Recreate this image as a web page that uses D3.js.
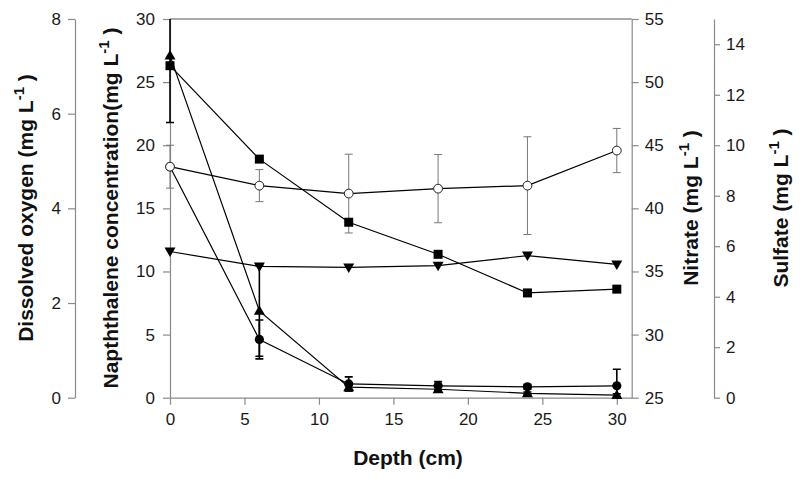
<!DOCTYPE html>
<html><head><meta charset="utf-8">
<script src="https://cdn.jsdelivr.net/npm/d3@7"></script>
<style>
body{margin:0;background:#fff;}
svg{display:block;font-family:"Liberation Sans",Arial,sans-serif;}
</style></head>
<body><svg id="c" width="800" height="479"></svg>
<script>
// ---- data ----
const depth = [0, 6, 12, 18, 24, 30];
// filled circles (Dissolved oxygen axis)
const oxygen      = [4.88, 1.23, 0.29, 0.25, 0.23, 0.25];
const oxygenErr   = [0, 0.41, 0.15, 0.09, 0.05, 0.35];
// filled triangles up (Napthalene axis)
const napthalene    = [27.1, 6.88, 0.83, 0.67, 0.35, 0.21];
const napthaleneErr = [5.3, 3.6, 0.3, 0.2, 0.1, 0.1];
// open circles (Nitrate axis)
const nitrate    = [43.3, 41.8, 41.17, 41.56, 41.8, 44.58];
const nitrateErr = [1.7, 1.27, 3.12, 2.7, 3.87, 1.75];
// filled squares (Sulfate axis)
const sulfate    = [13.15, 9.45, 6.95, 5.68, 4.15, 4.3];
// filled triangles down (Sulfate axis)
const sulfate2   = [5.79, 5.2, 5.16, 5.23, 5.63, 5.28];

const xTicks = [0, 5, 10, 15, 20, 25, 30];
const naphTicks = [0, 5, 10, 15, 20, 25, 30];
const doTicks = [0, 2, 4, 6, 8];
const nitTicks = [25, 30, 35, 40, 45, 50, 55];
const sulTicks = [0, 2, 4, 6, 8, 10, 12, 14];

// ---- layout ----
const svg = d3.select("#c");
const L = 170, R = 631.7, T = 19, B = 397.7;
const x = d3.scaleLinear().domain([0, 31]).range([L, R]);
const yN = d3.scaleLinear().domain([0, 30]).range([B, T]);
const yD = d3.scaleLinear().domain([0, 8]).range([B, T]);
const yNi = d3.scaleLinear().domain([25, 55]).range([B, T]);
const yS = d3.scaleLinear().domain([0, 15]).range([B, T]);

const axisCol = "#8a8a8a";
function styleAxis(g){
  g.attr("font-size", null).attr("font-family", null);
  g.select(".domain").attr("stroke", axisCol).attr("stroke-width", 1.2);
  g.selectAll(".tick line").attr("stroke", axisCol).attr("stroke-width", 1.2);
  g.selectAll(".tick text").attr("fill", "#1a1a1a").style("font-size", "17px")
    .style("font-family", '"Liberation Sans",Arial,sans-serif');
}

// top frame
svg.append("line").attr("x1", L).attr("x2", R).attr("y1", T).attr("y2", T)
  .attr("stroke", "#555").attr("stroke-width", 1.2);

// x axis
svg.append("g").attr("transform", `translate(0,${B})`)
  .call(d3.axisBottom(x).tickValues(xTicks).tickSize(7).tickPadding(8).tickSizeOuter(0))
  .call(styleAxis);
// napthalene axis
svg.append("g").attr("transform", `translate(${L},0)`)
  .call(d3.axisLeft(yN).tickValues(naphTicks).tickSize(7).tickPadding(8).tickSizeOuter(0))
  .call(styleAxis);
// DO axis
svg.append("g").attr("transform", `translate(75,0)`)
  .call(d3.axisLeft(yD).tickValues(doTicks).tickSize(7).tickPadding(7).tickSizeOuter(0))
  .call(styleAxis);
// nitrate axis
svg.append("g").attr("transform", `translate(${R},0)`)
  .call(d3.axisRight(yNi).tickValues(nitTicks).tickSize(7).tickPadding(6).tickSizeOuter(0))
  .call(styleAxis);
// sulfate axis
svg.append("g").attr("transform", `translate(714,0)`)
  .call(d3.axisRight(yS).tickValues(sulTicks).tickSize(6).tickPadding(6).tickSizeOuter(0))
  .call(styleAxis);

// axis titles
function vTitle(xp, main){
  const t = svg.append("text").attr("transform", `translate(${xp},208) rotate(-90)`)
    .attr("text-anchor", "middle").style("font-size", "21px").style("font-weight", "bold").attr("fill", "#111");
  t.append("tspan").text(main);
  t.append("tspan").attr("dy", -9).style("font-size", "15px").text("-1");
  t.append("tspan").attr("dy", 9).text(" )");
}
vTitle(33, "Dissolved oxygen (mg L");
vTitle(118, "Napththalene concentration(mg L");
vTitle(698, "Nitrate (mg L");
vTitle(788, "Sulfate (mg L");
svg.append("text").attr("x", 408).attr("y", 465).attr("text-anchor", "middle")
  .style("font-size", "21px").style("font-weight", "bold").attr("fill", "#111").text("Depth (cm)");

// clip for error bars
svg.append("clipPath").attr("id", "clip").append("rect")
  .attr("x", L - 10).attr("y", T).attr("width", R - L + 20).attr("height", B - T);
const plot = svg.append("g").attr("clip-path", "url(#clip)");

const series = [
  {v: sulfate2, e: null, y: yS, m: "tdown"},
  {v: sulfate, e: null, y: yS, m: "square"},
  {v: napthalene, e: napthaleneErr, y: yN, m: "tup", ec: "#000", ew: 1.6},
  {v: oxygen, e: oxygenErr, y: yD, m: "circle", ec: "#000", ew: 1.6},
  {v: nitrate, e: nitrateErr, y: yNi, m: "ocircle", ec: "#777", ew: 1},
];

// error bars
series.forEach(s => {
  if (!s.e) return;
  depth.forEach((d, i) => {
    const e = s.e[i]; if (!e) return;
    const cx = x(d), y1 = s.y(s.v[i] - e), y2 = s.y(s.v[i] + e);
    const g = plot.append("g").attr("stroke", s.ec).attr("stroke-width", s.ew);
    g.append("line").attr("x1", cx).attr("x2", cx).attr("y1", y1).attr("y2", y2);
    g.append("line").attr("x1", cx - 4).attr("x2", cx + 4).attr("y1", y1).attr("y2", y1);
    g.append("line").attr("x1", cx - 4).attr("x2", cx + 4).attr("y1", y2).attr("y2", y2);
  });
});

// lines
series.forEach(s => {
  svg.append("path").datum(s.v)
    .attr("d", d3.line().x((v, i) => x(depth[i])).y(v => s.y(v)))
    .attr("fill", "none").attr("stroke", "#000").attr("stroke-width", 1.2);
});

// markers
series.forEach(s => {
  depth.forEach((d, i) => {
    const cx = x(d), cy = s.y(s.v[i]);
    if (s.m === "circle") svg.append("circle").attr("cx", cx).attr("cy", cy).attr("r", 4.6).attr("fill", "#000");
    else if (s.m === "ocircle") svg.append("circle").attr("cx", cx).attr("cy", cy).attr("r", 4.4).attr("fill", "#fff").attr("stroke", "#222").attr("stroke-width", 1);
    else if (s.m === "square") svg.append("rect").attr("x", cx - 4.5).attr("y", cy - 4.5).attr("width", 9).attr("height", 9).attr("fill", "#000");
    else if (s.m === "tup") svg.append("path").attr("d", `M${cx},${cy-5.5}L${cx+5.5},${cy+4}L${cx-5.5},${cy+4}Z`).attr("fill", "#000");
    else if (s.m === "tdown") svg.append("path").attr("d", `M${cx},${cy+5.5}L${cx+5.5},${cy-4}L${cx-5.5},${cy-4}Z`).attr("fill", "#000");
  });
});
</script></body></html>
